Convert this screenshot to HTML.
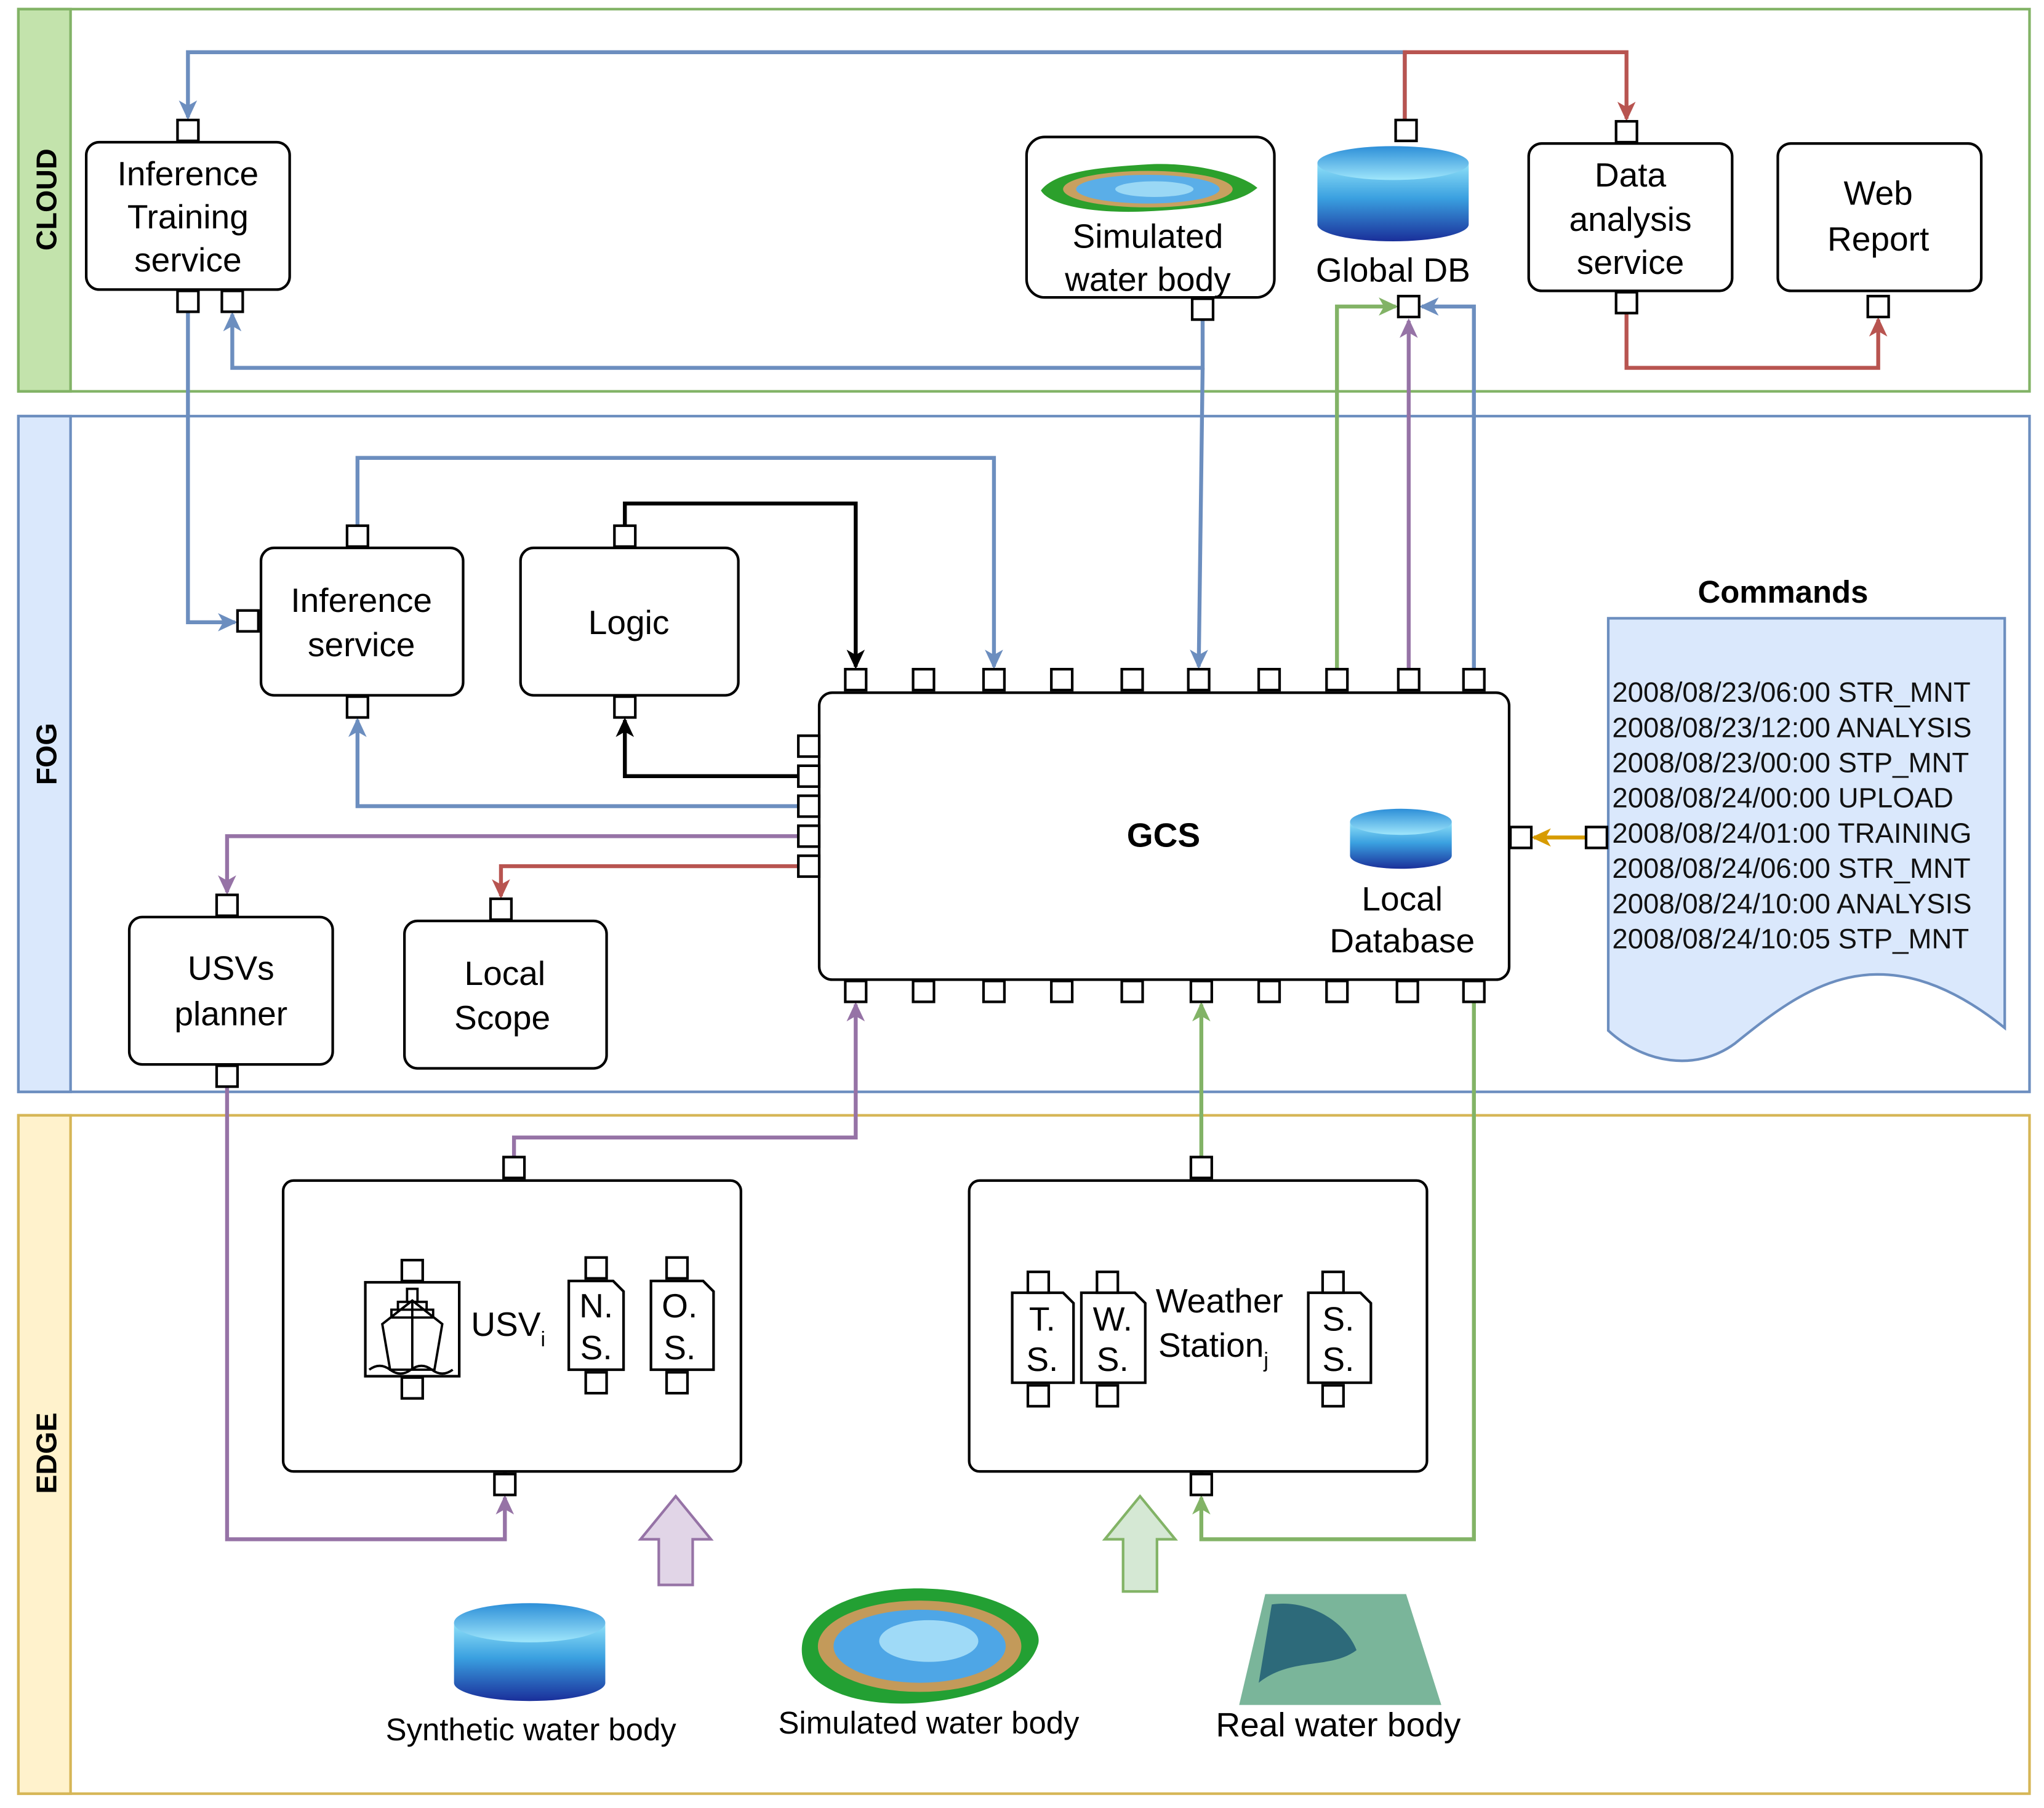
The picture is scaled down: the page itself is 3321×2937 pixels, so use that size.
<!DOCTYPE html>
<html><head><meta charset="utf-8"><style>html,body{margin:0;padding:0;background:#fff}svg{display:block}text{font-family:"Liberation Sans",sans-serif}</style></head><body>
<svg width="3321" height="2937" viewBox="0 0 1567 1386" xmlns="http://www.w3.org/2000/svg">
<defs>
<linearGradient id="cyl" x1="0" y1="0" x2="0" y2="1"><stop offset="0" stop-color="#8fe0f8"/><stop offset="0.45" stop-color="#3aa0e0"/><stop offset="1" stop-color="#1a2f9a"/></linearGradient>
<linearGradient id="cyltop" x1="0" y1="0" x2="0" y2="1"><stop offset="0" stop-color="#2d8fd8"/><stop offset="1" stop-color="#9fe6fb"/></linearGradient>
<marker id="ab" markerWidth="16" markerHeight="16" refX="13" refY="8" orient="auto" markerUnits="userSpaceOnUse"><path d="M0,1 L15,8 L0,15 L4,8z" fill="#6c8ebf"/></marker>
<marker id="ar" markerWidth="16" markerHeight="16" refX="13" refY="8" orient="auto" markerUnits="userSpaceOnUse"><path d="M0,1 L15,8 L0,15 L4,8z" fill="#b85450"/></marker>
<marker id="ag" markerWidth="16" markerHeight="16" refX="13" refY="8" orient="auto" markerUnits="userSpaceOnUse"><path d="M0,1 L15,8 L0,15 L4,8z" fill="#82b366"/></marker>
<marker id="ap" markerWidth="16" markerHeight="16" refX="13" refY="8" orient="auto" markerUnits="userSpaceOnUse"><path d="M0,1 L15,8 L0,15 L4,8z" fill="#9673a6"/></marker>
<marker id="ak" markerWidth="16" markerHeight="16" refX="13" refY="8" orient="auto" markerUnits="userSpaceOnUse"><path d="M0,1 L15,8 L0,15 L4,8z" fill="#000"/></marker>
<marker id="ao" markerWidth="16" markerHeight="16" refX="13" refY="8" orient="auto" markerUnits="userSpaceOnUse"><path d="M0,1 L15,8 L0,15 L4,8z" fill="#d79b00"/></marker>
</defs>
<rect x="14" y="7" width="1542" height="293" fill="#fff" stroke="#82b366" stroke-width="2"/>
<rect x="14" y="7" width="40" height="293" fill="#c3e3ac" stroke="#82b366" stroke-width="2"/>
<text transform="translate(43,153) rotate(-90)" text-anchor="middle" font-size="22" font-weight="bold">CLOUD</text>
<rect x="14" y="319" width="1542" height="518" fill="#fff" stroke="#6c8ebf" stroke-width="2"/>
<rect x="14" y="319" width="40" height="518" fill="#dae8fc" stroke="#6c8ebf" stroke-width="2"/>
<text transform="translate(43,578) rotate(-90)" text-anchor="middle" font-size="22" font-weight="bold">FOG</text>
<rect x="14" y="855" width="1542" height="520" fill="#fff" stroke="#d6b656" stroke-width="2"/>
<rect x="14" y="855" width="40" height="520" fill="#fff2cc" stroke="#d6b656" stroke-width="2"/>
<text transform="translate(43,1114) rotate(-90)" text-anchor="middle" font-size="22" font-weight="bold">EDGE</text>

<g fill="none" stroke-width="3">
<path d="M1077,92 V40 H144 V90" stroke="#6c8ebf" marker-end="url(#ab)"/>
<path d="M144,239 V477 H180" stroke="#6c8ebf" marker-end="url(#ab)"/>
<path d="M922,245 V282 H178 V241" stroke="#6c8ebf" marker-end="url(#ab)"/>
<path d="M922,282 L919,511" stroke="#6c8ebf" marker-end="url(#ab)"/>
<path d="M274,403 V351 H762 V511" stroke="#6c8ebf" marker-end="url(#ab)"/>
<path d="M612,618 H274 V552" stroke="#6c8ebf" marker-end="url(#ab)"/>
<path d="M1130,513 V235 H1090" stroke="#6c8ebf" marker-end="url(#ab)"/>
<path d="M1025,513 V235 H1070" stroke="#82b366" marker-end="url(#ag)"/>
<path d="M921,887 V770" stroke="#82b366" marker-end="url(#ag)"/>
<path d="M1130,768 V1180 H921 V1148" stroke="#82b366" marker-end="url(#ag)"/>
<path d="M1080,513 V246" stroke="#9673a6" marker-end="url(#ap)"/>
<path d="M612,641 H174 V684" stroke="#9673a6" marker-end="url(#ap)"/>
<path d="M174,833 V1180 H387 V1148" stroke="#9673a6" marker-end="url(#ap)"/>
<path d="M394,887 V872 H656 V770" stroke="#9673a6" marker-end="url(#ap)"/>
<path d="M1077,92 V40 H1247 V91" stroke="#b85450" marker-end="url(#ar)"/>
<path d="M1247,240 V282 H1440 V245" stroke="#b85450" marker-end="url(#ar)"/>
<path d="M612,664 H384 V687" stroke="#b85450" marker-end="url(#ar)"/>
<path d="M479,403 V386 H656 V511" stroke="#000" marker-end="url(#ak)"/>
<path d="M612,595 H479 V552" stroke="#000" marker-end="url(#ak)"/>
<path d="M1216,642 H1176" stroke="#d79b00" marker-end="url(#ao)"/>
<path d="M316,966 V940 H519 V964 M457,940 V964" stroke="#9673a6"/>
<path d="M394,940 V915" stroke="#9673a6" marker-end="url(#ap)"/>
<path d="M387,1130 V1113 H316 V1074" stroke="#9673a6" marker-end="url(#ap)"/>
<path d="M387,1113 H457 V1070" stroke="#9673a6" marker-end="url(#ap)"/>
<path d="M457,1113 H519 V1070" stroke="#9673a6" marker-end="url(#ap)"/>
<path d="M796,975 V938 H1022 V975 M849,938 V975" stroke="#82b366"/>
<path d="M919,938 V915" stroke="#82b366" marker-end="url(#ag)"/>
<path d="M921,1130 V1113 H796 V1080" stroke="#82b366" marker-end="url(#ag)"/>
<path d="M849,1113 V1080" stroke="#82b366" marker-end="url(#ag)"/>
<path d="M921,1113 H1022 V1080" stroke="#82b366" marker-end="url(#ag)"/>
</g>

<g fill="#fff" stroke="#000" stroke-width="2">
<rect x="66" y="109" width="156" height="113" rx="10"/>
<rect x="787" y="105" width="190" height="123" rx="14"/>
<rect x="1172" y="110" width="156" height="113" rx="10"/>
<rect x="1363" y="110" width="156" height="113" rx="10"/>
<rect x="200" y="420" width="155" height="113" rx="10"/>
<rect x="399" y="420" width="167" height="113" rx="10"/>
<rect x="628" y="531" width="529" height="220" rx="10"/>
<rect x="99" y="703" width="156" height="113" rx="10"/>
<rect x="310" y="706" width="155" height="113" rx="10"/>
<rect x="217" y="905" width="351" height="223" rx="8"/>
<rect x="743" y="905" width="351" height="223" rx="8"/>
</g>
<path d="M1233,474 H1537 V788 C1440,710 1380,760 1330,800 C1300,822 1260,815 1233,790 Z" fill="#dae8fc" stroke="#6c8ebf" stroke-width="2"/>
<text x="1367" y="462" text-anchor="middle" font-size="24" font-weight="bold">Commands</text>
<g font-size="21.5" fill="#111">
<text x="1236" y="538">2008/08/23/06:00 STR_MNT</text>
<text x="1236" y="565">2008/08/23/12:00 ANALYSIS</text>
<text x="1236" y="592">2008/08/23/00:00 STP_MNT</text>
<text x="1236" y="619">2008/08/24/00:00 UPLOAD</text>
<text x="1236" y="646">2008/08/24/01:00 TRAINING</text>
<text x="1236" y="673">2008/08/24/06:00 STR_MNT</text>
<text x="1236" y="700">2008/08/24/10:00 ANALYSIS</text>
<text x="1236" y="727">2008/08/24/10:05 STP_MNT</text>
</g>

<g>
<path d="M1010,125 V172 A58,13 0 0 0 1126,172 V125" fill="url(#cyl)"/>
<ellipse cx="1068" cy="125" rx="58" ry="13" fill="url(#cyltop)"/>
<path d="M1035,630 V656 A39,10 0 0 0 1113,656 V630" fill="url(#cyl)"/>
<ellipse cx="1074" cy="630" rx="39" ry="10" fill="url(#cyltop)"/>
<path d="M348,1244 V1290 A58,14 0 0 0 464,1290 V1244" fill="url(#cyl)"/>
<ellipse cx="406" cy="1244" rx="58" ry="15" fill="url(#cyltop)"/>
</g>
<g>
<path d="M798,146 C810,130 850,128 880,126 C910,124 950,132 964,144 C950,156 920,160 880,162 C840,164 805,158 798,146Z" fill="#2ca02c"/>
<ellipse cx="880" cy="145" rx="65" ry="14" fill="#c8a060"/>
<ellipse cx="880" cy="145" rx="55" ry="11" fill="#5aaee8"/>
<ellipse cx="885" cy="145" rx="30" ry="6" fill="#9ad8f5"/>
<path d="M615,1260 C620,1230 670,1215 715,1218 C760,1220 800,1240 796,1260 C790,1282 760,1300 710,1305 C660,1310 610,1295 615,1260Z" fill="#23a033"/>
<ellipse cx="705" cy="1262" rx="78" ry="35" fill="#c39a5a"/>
<ellipse cx="705" cy="1262" rx="66" ry="28" fill="#4ea6e6"/>
<ellipse cx="712" cy="1258" rx="38" ry="16" fill="#9fdaf7"/>
<path d="M970,1222 H1078 L1105,1307 H950 Z" fill="#7ab59a"/>
<path d="M975,1230 C1000,1226 1030,1240 1040,1265 C1020,1280 990,1270 965,1290 Z" fill="#2d6a7a"/>
</g>

<g fill="#fff" stroke="#000" stroke-width="2">
<rect x="280" y="983" width="72" height="72"/>
<path d="M436,982 H470 L478,990 V1050 H436 Z"/>
<path d="M499,982 H539 L547,990 V1050 H499 Z"/>
<path d="M776,991 H815 L823,999 V1060 H776 Z"/>
<path d="M829,991 H870 L878,999 V1060 H829 Z"/>
<path d="M1003,991 H1043 L1051,999 V1060 H1003 Z"/>
<path d="M293,1015 L316,997 L339,1015 L333,1050 H299 Z M316,997 V1050 M300,1004 H332 V1010 H300Z M305,998 H327 V1004 H305Z M312,988 H320 V998 H312Z" stroke-width="1.8"/>
<path d="M283,1050 q8,-6 16,0 t16,0 t16,0 t16,0" fill="none" stroke-width="1.8"/>
</g>
<g fill="#fff" stroke="#000" stroke-width="2">
<rect x="136" y="92" width="16" height="16"/><rect x="136" y="223" width="16" height="16"/><rect x="170" y="223" width="16" height="16"/>
<rect x="914" y="229" width="16" height="16"/>
<rect x="1070" y="92" width="16" height="16"/><rect x="1072" y="227" width="16" height="16"/>
<rect x="1239" y="93" width="16" height="16"/><rect x="1239" y="224" width="16" height="16"/>
<rect x="1432" y="227" width="16" height="16"/>
<rect x="266" y="403" width="16" height="16"/><rect x="182" y="468" width="16" height="16"/><rect x="266" y="534" width="16" height="16"/>
<rect x="471" y="403" width="16" height="16"/><rect x="471" y="534" width="16" height="16"/>
<rect x="166" y="686" width="16" height="16"/><rect x="166" y="817" width="16" height="16"/>
<rect x="376" y="689" width="16" height="16"/>
<rect x="648" y="513" width="16" height="16"/><rect x="700" y="513" width="16" height="16"/><rect x="754" y="513" width="16" height="16"/><rect x="806" y="513" width="16" height="16"/><rect x="860" y="513" width="16" height="16"/><rect x="911" y="513" width="16" height="16"/><rect x="965" y="513" width="16" height="16"/><rect x="1017" y="513" width="16" height="16"/><rect x="1072" y="513" width="16" height="16"/><rect x="1122" y="513" width="16" height="16"/>
<rect x="648" y="752" width="16" height="16"/><rect x="700" y="752" width="16" height="16"/><rect x="754" y="752" width="16" height="16"/><rect x="806" y="752" width="16" height="16"/><rect x="860" y="752" width="16" height="16"/><rect x="913" y="752" width="16" height="16"/><rect x="965" y="752" width="16" height="16"/><rect x="1017" y="752" width="16" height="16"/><rect x="1071" y="752" width="16" height="16"/><rect x="1122" y="752" width="16" height="16"/>
<rect x="612" y="564" width="16" height="16"/><rect x="612" y="587" width="16" height="16"/><rect x="612" y="610" width="16" height="16"/><rect x="612" y="633" width="16" height="16"/><rect x="612" y="656" width="16" height="16"/>
<rect x="1158" y="634" width="16" height="16"/><rect x="1216" y="634" width="16" height="16"/>
<rect x="386" y="887" width="16" height="16"/><rect x="379" y="1130" width="16" height="16"/>
<rect x="913" y="887" width="16" height="16"/><rect x="913" y="1130" width="16" height="16"/>
<rect x="308" y="966" width="16" height="16"/><rect x="308" y="1056" width="16" height="16"/>
<rect x="449" y="964" width="16" height="16"/><rect x="449" y="1052" width="16" height="16"/>
<rect x="511" y="964" width="16" height="16"/><rect x="511" y="1052" width="16" height="16"/>
<rect x="788" y="975" width="16" height="16"/><rect x="788" y="1062" width="16" height="16"/>
<rect x="841" y="975" width="16" height="16"/><rect x="841" y="1062" width="16" height="16"/>
<rect x="1014" y="975" width="16" height="16"/><rect x="1014" y="1062" width="16" height="16"/>
</g>
<path d="M505,1215 V1180 H491 L518,1147 L545,1180 H531 V1215 Z" fill="#e1d5e7" stroke="#9673a6" stroke-width="2"/>
<path d="M861,1220 V1180 H847 L874,1147 L901,1180 H887 V1220 Z" fill="#d5e8d4" stroke="#82b366" stroke-width="2"/>

<g font-size="26" text-anchor="middle" fill="#000">
<text x="144" y="142">Inference</text><text x="144" y="175">Training</text><text x="144" y="208">service</text>
<text x="880" y="190">Simulated</text><text x="880" y="223">water body</text>
<text x="1068" y="216">Global DB</text>
<text x="1250" y="143">Data</text><text x="1250" y="177">analysis</text><text x="1250" y="210">service</text>
<text x="1440" y="157">Web</text><text x="1440" y="192">Report</text>
<text x="277" y="469">Inference</text><text x="277" y="503">service</text>
<text x="482" y="486">Logic</text>
<text x="892" y="649" font-weight="bold">GCS</text>
<text x="1075" y="698">Local</text><text x="1075" y="730">Database</text>
<text x="177" y="751">USVs</text><text x="177" y="786">planner</text>
<text x="387" y="755">Local</text><text x="385" y="789">Scope</text>
<text x="407" y="1334" font-size="24">Synthetic water body</text>
<text x="712" y="1329" font-size="24">Simulated water body</text>
<text x="1026" y="1331" font-size="26">Real water body</text>
<text x="457" y="1010">N.</text><text x="457" y="1042">S.</text>
<text x="521" y="1010">O.</text><text x="521" y="1042">S.</text>
<text x="799" y="1020">T.</text><text x="799" y="1051">S.</text>
<text x="853" y="1020">W.</text><text x="853" y="1051">S.</text>
<text x="1026" y="1020">S.</text><text x="1026" y="1051">S.</text>
</g>
<text x="361" y="1024" font-size="26">USV<tspan font-size="16" dy="8">i</tspan></text>
<text x="886" y="1006" font-size="26">Weather</text>
<text x="888" y="1040" font-size="26">Station<tspan font-size="16" dy="8">j</tspan></text>
</svg>
</body></html>
